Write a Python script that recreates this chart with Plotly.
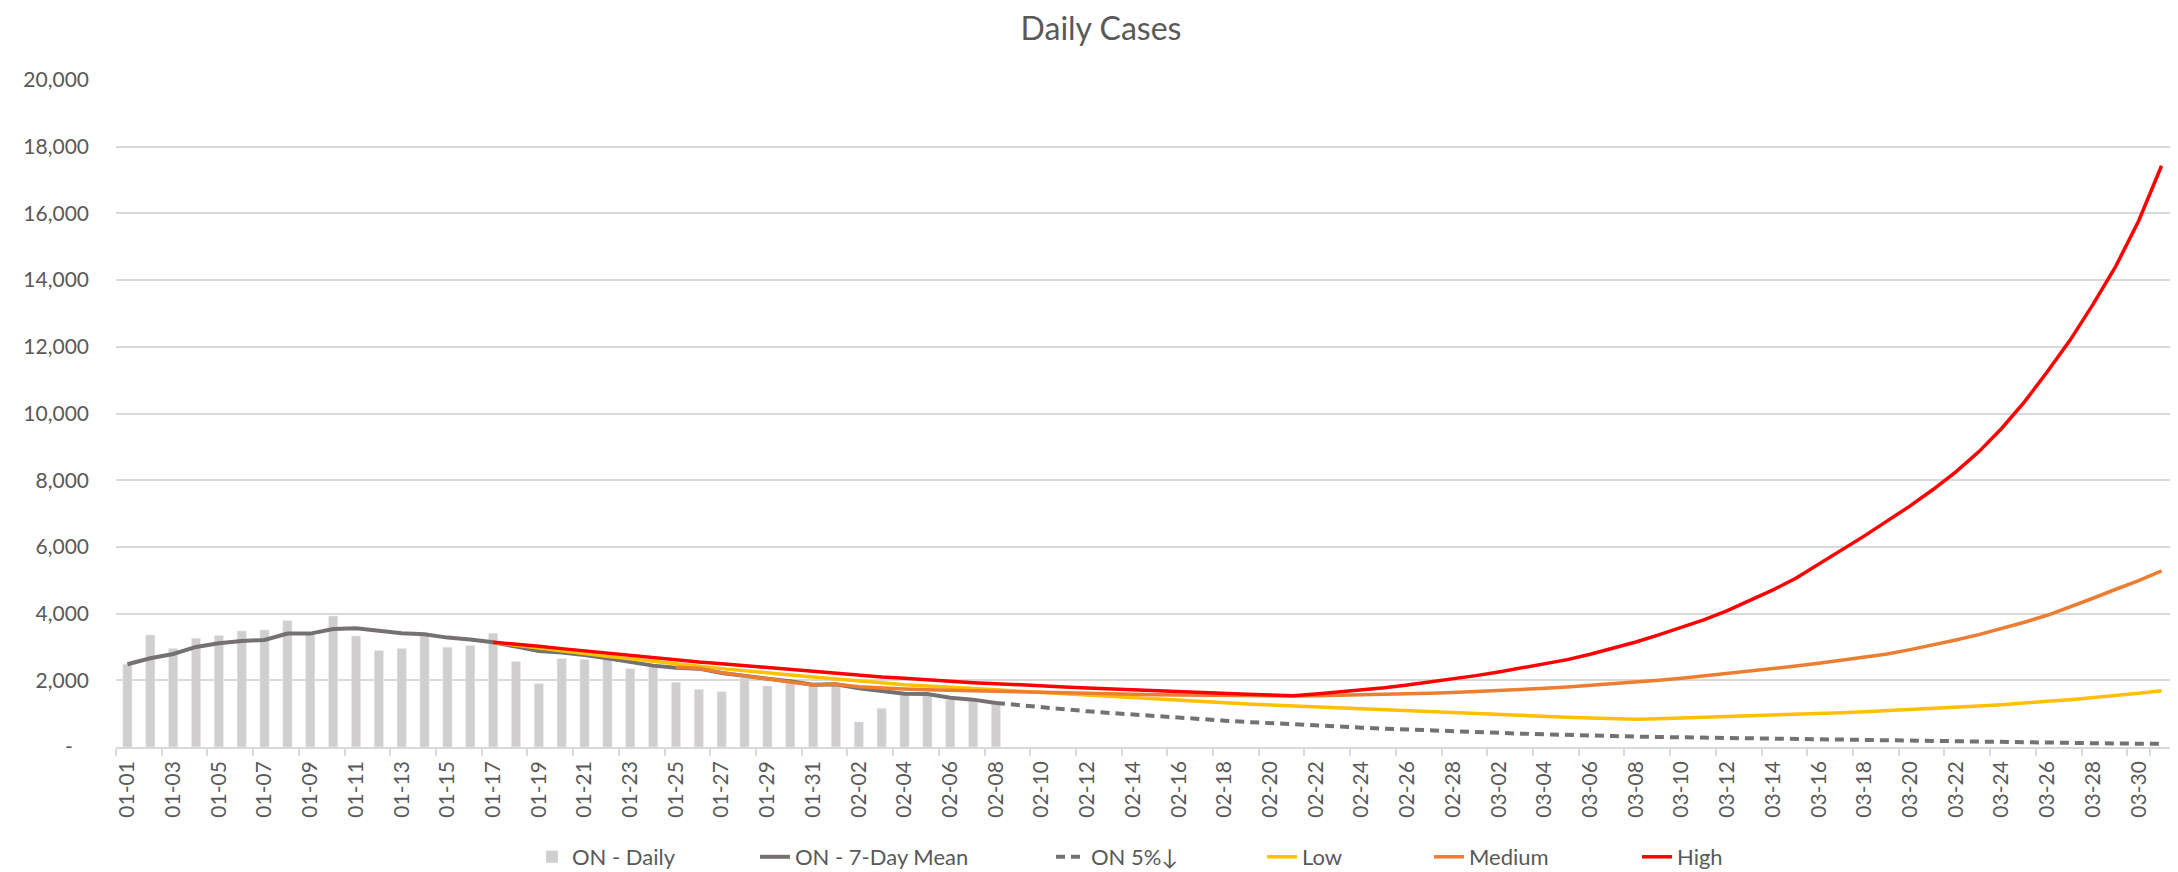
import pandas as pd
import plotly.graph_objects as go

# categories: every day from 01-01 to 03-31
days = pd.date_range("2021-01-01", "2021-03-31").strftime("%m-%d").tolist()

# observed daily cases, 01-01 .. 02-08
daily = [2480, 3360, 2950, 3260, 3340, 3480, 3510, 3790, 3410, 3930,
         3330, 2890, 2950, 3360, 2990, 3040, 3410, 2560, 1900, 2650,
         2620, 2640, 2350, 2410, 1940, 1730, 1660, 2060, 1830, 1910,
         1860, 1890, 750, 1160, 1560, 1540, 1410, 1360, 1280]

# 7-day mean, 01-01 .. 02-08
mean7 = [2480, 2660, 2790, 3000, 3110, 3180, 3210, 3400, 3400, 3540,
         3560, 3490, 3410, 3380, 3280, 3220, 3140, 3010, 2880, 2830,
         2760, 2660, 2560, 2440, 2380, 2350, 2220, 2120, 2050, 1970,
         1870, 1880, 1760, 1680, 1600, 1590, 1480, 1420, 1320]

# 5% decline, 02-08 .. 03-31
decline5 = [1320, 1250, 1190, 1130, 1070, 1020, 970, 920, 870, 830,
            790, 750, 710, 680, 640, 610, 580, 550, 520, 500,
            470, 450, 430, 400, 380, 370, 350, 330, 310, 300,
            280, 270, 250, 240, 230, 220, 210, 200, 190, 180,
            170, 160, 150, 145, 135, 130, 125, 115, 110, 105,
            100, 95]

# Low scenario, 01-17 .. 03-31
low = [3140, 3050, 2960, 2880, 2800, 2720, 2640, 2560, 2490, 2420,
       2350, 2280, 2220, 2160, 2100, 2040, 1980, 1920, 1870, 1830,
       1790, 1760, 1730, 1690, 1650, 1610, 1560, 1520, 1480, 1440,
       1400, 1360, 1320, 1290, 1260, 1230, 1200, 1170, 1140, 1110,
       1080, 1050, 1020, 990, 960, 935, 910, 890, 870, 850,
       830, 845, 865, 885, 905, 925, 950, 975, 1000, 1030,
       1060, 1090, 1120, 1160, 1190, 1230, 1270, 1310, 1370, 1420,
       1480, 1540, 1610, 1690]

# Medium scenario, 01-25 .. 03-31
medium = [2390, 2360, 2230, 2130, 2040, 1950, 1860, 1880, 1810, 1770,
          1740, 1720, 1700, 1690, 1680, 1660, 1640, 1630, 1610, 1600,
          1580, 1570, 1560, 1550, 1540, 1535, 1530, 1530, 1535, 1545,
          1560, 1575, 1590, 1610, 1635, 1660, 1690, 1725, 1760, 1800,
          1845, 1890, 1945, 2000, 2060, 2130, 2200, 2270, 2350, 2430,
          2510, 2600, 2690, 2790, 2920, 3060, 3210, 3370, 3550, 3740,
          3950, 4200, 4460, 4730, 4990, 5280]

# High scenario, 01-17 .. 03-31
high = [3140, 3090, 3020, 2950, 2880, 2810, 2740, 2680, 2610, 2550,
        2500, 2440, 2380, 2320, 2260, 2210, 2150, 2100, 2060, 2010,
        1970, 1930, 1900, 1860, 1830, 1800, 1770, 1740, 1710, 1680,
        1650, 1630, 1600, 1580, 1560, 1540, 1590, 1650, 1710, 1780,
        1860, 1950, 2040, 2140, 2250, 2370, 2490, 2620, 2780, 2960,
        3150, 3360, 3580, 3820, 4090, 4390, 4710, 5060, 5480, 5900,
        6330, 6780, 7230, 7720, 8250, 8850, 9550, 10350, 11250, 12200,
        13270, 14420, 15780, 17430]

y_ticks = list(range(0, 20001, 2000))
y_text = ["-\u00a0\u00a0\u00a0"] + [f"{v:,}" for v in y_ticks[1:]]

grey_txt = "#595959"
# the page body has an 8px margin, so the figure is 8px smaller each way
W, H = 2170, 864

fig = go.Figure()
fig.add_trace(go.Bar(x=days[:len(daily)], y=daily, name="ON - Daily",
                     marker=dict(color="#D0CECE"), legend="legend"))
fig.add_trace(go.Scatter(x=days[:len(mean7)], y=mean7, mode="lines", name="ON - 7-Day Mean",
                         line=dict(color="#767171", width=4), legend="legend2"))
fig.add_trace(go.Scatter(x=days[38:], y=decline5, mode="lines", name="ON 5%↓",
                         line=dict(color="#767171", width=4, dash="9px,6px"), legend="legend3"))
fig.add_trace(go.Scatter(x=days[16:], y=low, mode="lines", name="Low",
                         line=dict(color="#FFC000", width=3.5), legend="legend4"))
fig.add_trace(go.Scatter(x=days[24:], y=medium, mode="lines", name="Medium",
                         line=dict(color="#ED7D31", width=3.5), legend="legend5"))
fig.add_trace(go.Scatter(x=days[16:], y=high, mode="lines", name="High",
                         line=dict(color="#FF0000", width=3.5), legend="legend6"))

# one small legend per entry so the entries sit where the original has them
text_starts = [570, 793, 1089, 1300, 1467, 1675]
legends = {}
for i, xs in enumerate(text_starts):
    key = "legend" if i == 0 else f"legend{i + 1}"
    legends[key] = dict(orientation="h", xref="container", yref="container",
                        x=(xs - 46) / W, y=1 - 849 / H, xanchor="left", yanchor="middle",
                        bgcolor="rgba(0,0,0,0)", borderwidth=0,
                        font=dict(family="Lato", size=22, color=grey_txt))

fig.update_layout(
    width=W, height=H,
    margin=dict(l=108, r=5, t=72, b=125, autoexpand=False),
    paper_bgcolor="white", plot_bgcolor="white",
    title=dict(text="Daily Cases", x=1093 / W, xref="container", xanchor="center",
               y=1 - 21 / H, yref="container", yanchor="middle",
               font=dict(family="Lato", size=32, color=grey_txt)),
    bargap=0.6,
    showlegend=True,
    **legends,
)
fig.update_xaxes(type="category", categoryorder="array", categoryarray=days,
                 range=[-0.5, len(days) - 0.5],
                 tickmode="array", tickvals=days[::2], ticktext=days[::2],
                 tickangle=-90, tickson="boundaries", ticks="outside", ticklen=7,
                 tickcolor="#D9D9D9", tickwidth=1.5,
                 showline=True, linecolor="#D9D9D9", linewidth=1.5, showgrid=False,
                 ticklabelstandoff=4,
                 tickfont=dict(family="Lato", size=21, color=grey_txt))
fig.update_yaxes(range=[0, 20000], tickmode="array", tickvals=y_ticks, ticktext=y_text,
                 showgrid=True, gridcolor="#D9D9D9", gridwidth=1.5,
                 zeroline=False, showline=False, ticks="", ticklabelstandoff=26,
                 tickfont=dict(family="Lato", size=21, color=grey_txt))

fig.write_html("out.html")
